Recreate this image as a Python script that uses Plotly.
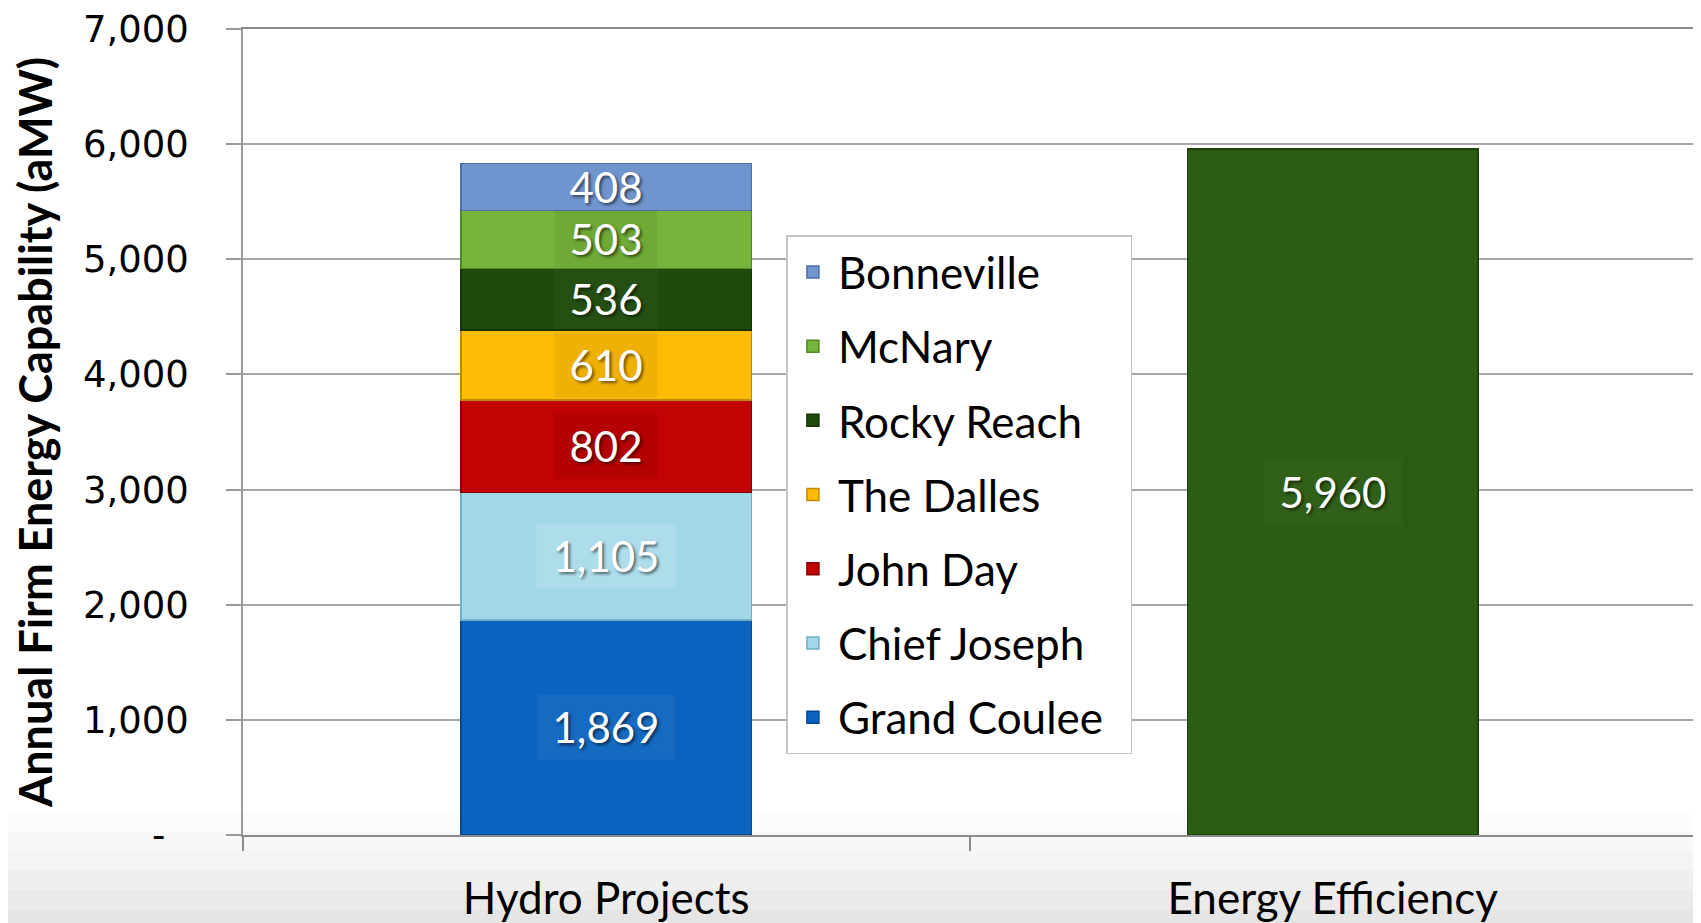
import plotly.graph_objects as go

categories = ['Hydro Projects', 'Energy Efficiency']
projects = ['Grand Coulee', 'Chief Joseph', 'John Day', 'The Dalles',
            'Rocky Reach', 'McNary', 'Bonneville']
project_values = [1869, 1105, 802, 610, 536, 503, 408]
project_colors = ['#0a63bf', '#a0d8e8', '#c20303', '#fdbb06',
                  '#1f4b0c', '#76b53b', '#7094cd']
project_edges = ['#064a8f', '#6fb0c4', '#8a0000', '#c08a00',
                 '#143307', '#4f8a22', '#4c6ea8']
# tint of the little box Excel draws behind each data label
label_boxes = ['rgba(255,255,255,0.05)', 'rgba(255,255,255,0.14)', 'rgba(0,0,0,0.07)',
               'rgba(0,0,0,0.05)', 'rgba(255,255,255,0.03)', 'rgba(0,0,0,0.06)',
               'rgba(0,0,0,0)']
efficiency_value = 5960
efficiency_color = '#2b5c12'

y_ticks = [0, 1000, 2000, 3000, 4000, 5000, 6000, 7000]
y_ticktext = ['-\u00a0\u00a0', '1,000', '2,000', '3,000', '4,000', '5,000', '6,000', '7,000']

Y_MAX = 7000
PLOT_H = 806
label_font = dict(family='Lato, sans-serif', size=42, color='white',
                  shadow='2px 2px 3px rgba(0,0,0,0.55)')

fig = go.Figure()
base = 0
n = len(projects)
for i, (name, val, col, edge, box) in enumerate(zip(projects, project_values, project_colors,
                                                    project_edges, label_boxes)):
    fig.add_trace(go.Bar(
        x=[categories[0]], y=[val], name=name + '\u00a0\u00a0', legendgroup=name,
        legendrank=n - i,
        marker=dict(color=col, line=dict(color=edge, width=1.5)),
        hovertemplate=name + ': %{y:,}<extra></extra>'))
    txt = f'{val:,}'
    fig.add_annotation(x=categories[0], y=base + val / 2, text=txt, showarrow=False,
                       font=label_font, bgcolor=box,
                       width=136 if len(txt) > 3 else 100,
                       height=min(62, val * PLOT_H / Y_MAX - 4), valign='middle')
    base += val

fig.add_trace(go.Bar(
    x=[categories[1]], y=[efficiency_value], name='Energy Efficiency', showlegend=False,
    marker=dict(color=efficiency_color, line=dict(color='#1d420a', width=1.5))))
fig.add_annotation(x=categories[1], y=efficiency_value / 2, text=f'{efficiency_value:,}',
                   showarrow=False, font=label_font, bgcolor='rgba(255,255,255,0.03)',
                   width=136, height=62, valign='middle')

# light grey band under the axis, like the slide background
greys = ['#fcfcfc', '#f8f8f8', '#f4f4f4', '#efefef', '#eaeaea', '#e5e5e5']
top = 0.0285
step = 0.024
for i, g in enumerate(greys):
    fig.add_shape(type='rect', xref='paper', yref='paper', layer='below',
                  x0=-0.2, x1=1.01, y0=top - (i + 1) * step, y1=top - i * step,
                  fillcolor=g, line_width=0)

# page body has an 8px margin, so the figure is a bit smaller than the window
fig.update_layout(
    barmode='stack', bargap=0.6,
    width=1693, height=915,
    margin=dict(l=235, r=5, t=21, b=88),
    paper_bgcolor='white', plot_bgcolor='rgba(0,0,0,0)',
    legend=dict(x=0.374, y=0.744, xanchor='left', yanchor='top',
                traceorder='grouped', tracegroupgap=14,
                bgcolor='white', bordercolor='#c4c4c4', borderwidth=1.5,
                font=dict(family='Lato, sans-serif', size=44, color='black'),
                itemwidth=40),
    xaxis=dict(type='category', tickson='boundaries', ticks='outside', ticklen=14,
               tickcolor='#8c8c8c', tickwidth=1.5, showline=True, linecolor='#8c8c8c',
               linewidth=2, mirror=True, showgrid=False, ticklabelstandoff=24,
               automargin=False,
               tickfont=dict(family='Lato, sans-serif', size=44, color='black')),
    yaxis=dict(range=[0, Y_MAX], tickvals=y_ticks, ticktext=y_ticktext,
               ticks='outside', ticklen=15, tickcolor='#9a9a9a', tickwidth=1.5,
               showline=True, linecolor='#9a9a9a', linewidth=1.5,
               gridcolor='#a6a6a6', gridwidth=1.5, zeroline=False,
               ticklabelstandoff=30, automargin=False, ticklabeloverflow='allow',
               tickfont=dict(family='DejaVu Sans, Verdana, sans-serif', size=37, color='black'),
               title=dict(text='Annual Firm Energy Capability (aMW)', standoff=25,
                          font=dict(family='Lato, sans-serif',
                                    size=45, weight='bold', color='black'))),
)

fig.write_html('out.html')
